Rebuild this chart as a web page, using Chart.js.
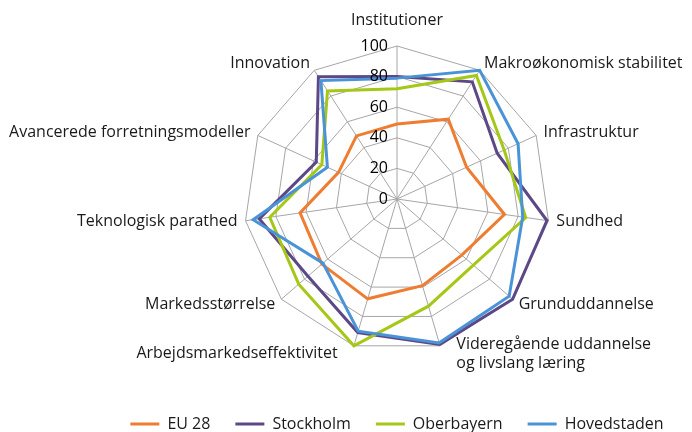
<!DOCTYPE html>
<html>
<head>
<meta charset="utf-8">
<script src="https://cdn.jsdelivr.net/npm/chart.js@4/dist/chart.umd.min.js"></script>
<style>
html,body{margin:0;padding:0;background:#ffffff;}
#wrap{width:692px;height:432px;position:relative;}
</style>
</head>
<body>
<div id="wrap"><canvas id="c" width="692" height="432"></canvas></div>
<script>
// ---------- data ----------
const categories = [
  'Institutioner',
  'Makroøkonomisk stabilitet',
  'Infrastruktur',
  'Sundhed',
  'Grunduddannelse',
  ['Videregående uddannelse', 'og livslang læring'],
  'Arbejdsmarkedseffektivitet',
  'Markedsstørrelse',
  'Teknologisk parathed',
  'Avancerede forretningsmodeller',
  'Innovation'
];
const seriesNames = ['EU 28', 'Stockholm', 'Oberbayern', 'Hovedstaden'];
const eu28        = [49, 62, 50, 71, 56, 59, 68, 65, 64, 42, 49];
const stockholm   = [80, 91, 72, 99, 100, 99, 91, 77, 91, 58, 95];
const oberbayern  = [72, 96, 77, 85, 66, 73, 100, 85, 84, 54, 84];
const hovedstaden = [79, 100, 87, 83, 97, 98, 90, 64, 95, 50, 92];
const tickLabels  = ['0', '20', '40', '60', '80', '100'];

// ---------- styles ----------
const seriesColors = ['#EE7D32', '#5C4787', '#A5C716', '#4A93D6'];
const gridColor = '#A6A6A6';
const textColor = '#1a1a1a';
const FONT = "'Open Sans'";
Chart.defaults.font.family = FONT;

const seriesData = [eu28, stockholm, oberbayern, hovedstaden];
const datasets = seriesNames.map((name, i) => ({
  label: name,
  data: seriesData[i],
  borderColor: seriesColors[i],
  backgroundColor: seriesColors[i],
  borderWidth: 3,
  pointRadius: 0,
  pointHoverRadius: 0,
  fill: false,
  tension: 0,
  order: seriesNames.length - 1 - i
}));

// draws the category labels around the web, Excel-like placement
const pointLabelPlugin = {
  id: 'pointLabelPlugin',
  afterDraw(chart) {
    const s = chart.scales.r;
    const ctx = chart.ctx;
    const R = s.drawingArea;
    ctx.save();
    ctx.font = '16px ' + FONT;
    ctx.fillStyle = textColor;
    ctx.textBaseline = 'middle';
    chart.data.labels.forEach((lab, i) => {
      const ang = s.getIndexAngle(i) - Math.PI / 2;
      const c = Math.cos(ang), sn = Math.sin(ang);
      const lines = Array.isArray(lab) ? lab : [lab];
      const lh = 19;
      let x, y;
      if (Math.abs(c) < 0.05) {
        const p = s.getPointPosition(i, R + 26);
        ctx.textAlign = 'center';
        x = p.x; y = p.y;
      } else {
        const p = s.getPointPosition(i, R + 8);
        ctx.textAlign = c > 0 ? 'left' : 'right';
        x = p.x + ((Math.abs(c) < 0.5 && sn > 0) ? Math.sign(c) * 14 : 0);
        y = p.y;
      }
      const y0 = y - (lines.length - 1) * lh / 2;
      lines.forEach((t, k) => ctx.fillText(t, x, y0 + k * lh));
    });
    ctx.restore();
  }
};

// draws the value axis labels right-aligned beside the vertical spoke
const tickLabelPlugin = {
  id: 'tickLabelPlugin',
  afterDraw(chart) {
    const s = chart.scales.r;
    const ctx = chart.ctx;
    ctx.save();
    ctx.font = '16px ' + FONT;
    ctx.fillStyle = '#000000';
    ctx.textAlign = 'right';
    ctx.textBaseline = 'middle';
    s.ticks.forEach((t) => {
      const d = s.getDistanceFromCenterForValue(t.value);
      ctx.fillText(t.label, s.xCenter - 9, s.yCenter - d);
    });
    ctx.restore();
  }
};

new Chart(document.getElementById('c'), {
  type: 'radar',
  data: { labels: categories, datasets: datasets },
  options: {
    responsive: false,
    devicePixelRatio: 1,
    animation: false,
    layout: { padding: { left: 102, right: 0, top: 7, bottom: -10 } },
    scales: {
      r: {
        min: 0,
        max: 100,
        ticks: {
          stepSize: 20,
          display: true,
          color: 'rgba(0,0,0,0)',
          showLabelBackdrop: false,
          backdropPadding: 31,
          font: { size: 16 },
          callback: (v, i) => tickLabels[i]
        },
        pointLabels: { display: false },
        grid: { color: gridColor, lineWidth: 1, circular: false },
        angleLines: { display: true, color: gridColor, lineWidth: 1 }
      }
    },
    plugins: {
      tooltip: { enabled: false },
      legend: {
        position: 'bottom',
        align: 'center',
        labels: {
          boxWidth: 29,
          boxHeight: 3,
          padding: 25,
          color: textColor,
          font: { size: 16, family: FONT },
          sort: (a, b) => a.datasetIndex - b.datasetIndex,
          generateLabels: (chart) => {
            const items = Chart.defaults.plugins.legend.labels.generateLabels(chart);
            return items.map(it => Object.assign(it, {
              fillStyle: seriesColors[it.datasetIndex],
              strokeStyle: seriesColors[it.datasetIndex],
              lineWidth: 0
            }));
          }
        }
      }
    }
  },
  plugins: [pointLabelPlugin, tickLabelPlugin]
});
</script>
</body>
</html>
